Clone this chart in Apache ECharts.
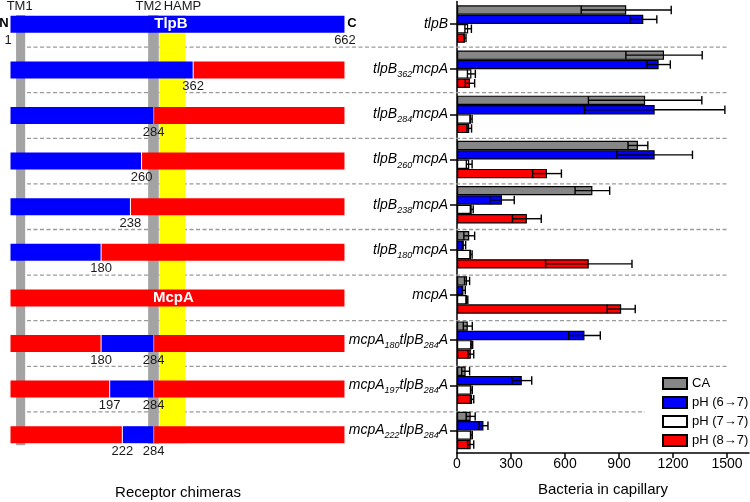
<!DOCTYPE html>
<html><head><meta charset="utf-8">
<script src="https://cdn.jsdelivr.net/npm/echarts@6/dist/echarts.min.js"></script>
<style>html,body{margin:0;padding:0;background:#fff}#c{width:750px;height:502px}</style>
</head><body><div id="c"></div>
<script>
// ---------- data ----------
const categories = ['tlpB','tlpB_362_mcpA','tlpB_284_mcpA','tlpB_260_mcpA','tlpB_238_mcpA','tlpB_180_mcpA','mcpA','mcpA_180_tlpB_284_A','mcpA_197_tlpB_284_A','mcpA_222_tlpB_284_A'];
const seriesNames = ['CA','pH (6→7)','pH (7→7)','pH (8→7)'];
const caMean  = [940, 1150, 1045, 1005, 752, 68, 56, 60, 48, 76];
const caErr   = [250, 212, 315, 55, 96, 30, 14, 25, 22, 25];
const ph6Mean = [1035, 1120, 1098, 1098, 250, 38, 36, 708, 360, 147];
const ph6Err  = [75, 65, 390, 210, 68, 10, 10, 88, 55, 25];
const ph7Mean = [62, 80, 78, 68, 82, 78, 55, 82, 80, 80];
const ph7Err  = [18, 22, 6, 16, 8, 6, 5, 5, 5, 5];
const ph8Mean = [44, 72, 68, 500, 388, 732, 912, 77, 84, 76];
const ph8Err  = [6, 26, 13, 80, 80, 240, 78, 16, 9, 17];
const xTicks = [0, 300, 600, 900, 1200, 1500];

// receptor chimeras: [start residue, end residue, origin]
const chimeraSegments = [
  [[0,662,'TlpB']],
  [[0,362,'TlpB'],[362,662,'McpA']],
  [[0,284,'TlpB'],[284,662,'McpA']],
  [[0,260,'TlpB'],[260,662,'McpA']],
  [[0,238,'TlpB'],[238,662,'McpA']],
  [[0,180,'TlpB'],[180,662,'McpA']],
  [[0,662,'McpA']],
  [[0,180,'McpA'],[180,284,'TlpB'],[284,662,'McpA']],
  [[0,197,'McpA'],[197,284,'TlpB'],[284,662,'McpA']],
  [[0,222,'McpA'],[222,284,'TlpB'],[284,662,'McpA']]
];
const domainNames = ['TM1','TM2','HAMP'];
const domainStart = [12, 273, 295];
const domainEnd   = [30, 294, 347];
const proteinLength = 662;

// ---------- styling ----------
const FONT = 'Liberation Sans, Arial, Helvetica, sans-serif';
const barColors = ['#868686','#0000ff','#ffffff','#ff0000'];
const segColor = {TlpB:'#0000ff', McpA:'#ff0000'};
const domainColor = ['#a3a3a3','#a3a3a3','#ffff00'];
const means = [caMean, ph6Mean, ph7Mean, ph8Mean];
const errs  = [caErr, ph6Err, ph7Err, ph8Err];
const CAT_GAP = 0.17;

const segData = [];
chimeraSegments.forEach((segs, r) => segs.forEach(s => segData.push([s[0], s[1], r, s[2]])));

const errData = [];
means.forEach((m, k) => m.forEach((v, c) => errData.push([v, c, errs[k][c], k])));

// annotation labels on the chimera panel
const annot = [];
const numStyle = {fontSize:13, color:'#1a1a1a', fontFamily:FONT};
chimeraSegments.forEach((segs, r) => {
  segs.forEach((s, j) => {
    if (j > 0) annot.push({value:[s[0], r + 0.5], label:{formatter:String(s[0]), offset:[0,16.5], ...numStyle}});
  });
});
annot.push({value:[0, 0.5], label:{formatter:'1', offset:[-2,16], ...numStyle}});
annot.push({value:[proteinLength, 0.5], label:{formatter:String(proteinLength), offset:[0,16.5], ...numStyle}});
annot.push({value:[0, 0.5], label:{formatter:'N', offset:[-6,-1], fontSize:13, fontWeight:'bold', color:'#000', fontFamily:FONT}});
annot.push({value:[proteinLength, 0.5], label:{formatter:'C', offset:[7,-1], fontSize:13, fontWeight:'bold', color:'#000', fontFamily:FONT}});
annot.push({value:[318, 0.5], label:{formatter:'TlpB', fontSize:15, fontWeight:'bold', color:'#fff', fontFamily:FONT}});
annot.push({value:[323, 6.5], label:{formatter:'McpA', fontSize:15, fontWeight:'bold', color:'#fff', fontFamily:FONT}});
const domLabelOffset = [-1, -5, 10];
domainNames.forEach((n, i) => {
  annot.push({value:[(domainStart[i]+domainEnd[i])/2, 0.11], label:{formatter:n, offset:[domLabelOffset[i],0], fontSize:13, color:'#1a1a1a', fontFamily:FONT}});
});

const chart = echarts.init(document.getElementById('c'), null, {renderer:'canvas'});

const option = {
  animation: false,
  backgroundColor: '#fff',
  grid: [
    {left:10, right:23, top:1.5, bottom:44.5},
    {left:457, right:1, top:1.5, bottom:44.5}
  ],
  xAxis: [
    {gridIndex:0, type:'value', min:0, max:1417, show:false},
    {gridIndex:1, type:'value', min:0, max:1622, interval:300,
     axisLine:{show:true, lineStyle:{color:'#000', width:1.5}},
     axisTick:{show:true, length:5, lineStyle:{color:'#000', width:1.5}},
     axisLabel:{fontSize:14, color:'#000', margin:4, fontFamily:FONT, showMaxLabel:false,
       formatter: v => xTicks.indexOf(v) >= 0 ? String(v) : ''},
     splitLine:{show:false},
     name:'Bacteria in capillary', nameLocation:'middle', nameGap:29,
     nameTextStyle:{fontSize:15, color:'#000', fontFamily:FONT}}
  ],
  yAxis: [
    {gridIndex:0, type:'value', min:0, max:10, inverse:true, show:false},
    {gridIndex:1, type:'category', data:categories, inverse:true,
     axisLine:{show:true, lineStyle:{color:'#000', width:1.5}},
     axisTick:{show:true, alignWithLabel:true, length:7, lineStyle:{color:'#000', width:1.5}},
     axisLabel:{margin:9,
       formatter: v => v.split('_').map((p,i) => i % 2 === 0 ? '{i|' + p + '}' : '{s|' + p + '}').join(''),
       rich:{
         i:{fontSize:14, fontStyle:'italic', fontFamily:FONT, color:'#000', lineHeight:20},
         s:{fontSize:9, fontStyle:'italic', fontFamily:FONT, color:'#000', verticalAlign:'bottom', lineHeight:11}
       }}}
  ],
  legend: {
    orient:'vertical', left:662, top:377, padding:0, itemWidth:24, itemHeight:11, itemGap:6,
    icon:'rect', data:seriesNames,
    textStyle:{fontSize:13, color:'#000', fontFamily:FONT}
  },
  graphic: [
    {type:'text', x:178, y:493, style:{text:'Receptor chimeras', fontSize:15, fontFamily:FONT, fill:'#000', align:'center', verticalAlign:'middle'}}
  ],
  series: [
    // dashed separators between constructs
    {type:'custom', name:'sep', xAxisIndex:0, yAxisIndex:0, z:1, silent:true,
     data: categories.slice(1).map((c, i) => [i + 1]),
     renderItem(params, api){
       const b = api.value(0);
       const xEnd = b === categories.length - 1 ? 1255 : 1417;
       const p0 = api.coord([33.6, b]), p1 = api.coord([xEnd, b]);
       return {type:'line', shape:{x1:p0[0], y1:p0[1], x2:p1[0], y2:p1[1]},
         style:{stroke:'#9a9a9a', lineWidth:1.3, lineDash:[4,2.5]}};
     }},
    // domain strips
    {type:'custom', name:'domains', xAxisIndex:0, yAxisIndex:0, z:2, silent:true,
     data: domainNames.map((n, i) => [domainStart[i], domainEnd[i], i]),
     renderItem(params, api){
       const i = api.value(2);
       const yb = i === 0 ? 9.73 : 9.7;
       const p0 = api.coord([api.value(0), 0.296]), p1 = api.coord([api.value(1), yb]);
       return {type:'rect', shape:{x:p0[0], y:p0[1], width:p1[0]-p0[0], height:p1[1]-p0[1]}, style:{fill:domainColor[i]}};
     }},
    // chimera bars
    {type:'custom', name:'chimeras', xAxisIndex:0, yAxisIndex:0, z:3, silent:true,
     data: segData.map(d => [d[0], d[1], d[2]]),
     renderItem(params, api){
       const s = api.value(0), e = api.value(1), r = api.value(2);
       const p0 = api.coord([s, r + 0.5]), p1 = api.coord([e, r + 0.5]);
       const h = 17;
       return {type:'rect', shape:{x:p0[0]+0.5, y:p0[1]-h/2, width:p1[0]-p0[0]-1, height:h},
         style:{fill:segColor[segData[params.dataIndex][3]]}};
     }},
    // annotation text
    {type:'scatter', name:'annot', xAxisIndex:0, yAxisIndex:0, z:5, silent:true,
     symbolSize:0, data:annot, itemStyle:{opacity:1},
     label:{show:true, position:'inside', align:'center', verticalAlign:'middle', opacity:1}},
    // response bars
    ...seriesNames.map((n, k) => ({
      type:'bar', name:n, xAxisIndex:1, yAxisIndex:1, data:means[k],
      barGap:'0%', barCategoryGap:(CAT_GAP*100)+'%', z:3,
      itemStyle:{color:barColors[k], borderColor:'#000', borderWidth:1.2}
    })),
    // error bars
    {type:'custom', name:'err', xAxisIndex:1, yAxisIndex:1, z:6, silent:true,
     data: errData,
     renderItem(params, api){
       const v = api.value(0), c = api.value(1), e = api.value(2), k = api.value(3);
       const band = api.size([0, 1])[1];
       const total = band * (1 - CAT_GAP), bw = total / 4;
       const base = api.coord([0, c]);
       const y = base[1] - total/2 + bw*(k + 0.5);
       const x0 = api.coord([Math.max(0, v - e), c])[0], x1 = api.coord([v + e, c])[0];
       const h = bw * 0.9;
       const st = {stroke:'#000', lineWidth:1.4};
       return {type:'group', children:[
         {type:'line', shape:{x1:x0, y1:y, x2:x1, y2:y}, style:st},
         {type:'line', shape:{x1:x0, y1:y-h/2, x2:x0, y2:y+h/2}, style:st},
         {type:'line', shape:{x1:x1, y1:y-h/2, x2:x1, y2:y+h/2}, style:st}
       ]};
     }}
  ]
};
chart.setOption(option);
</script>
</body></html>
